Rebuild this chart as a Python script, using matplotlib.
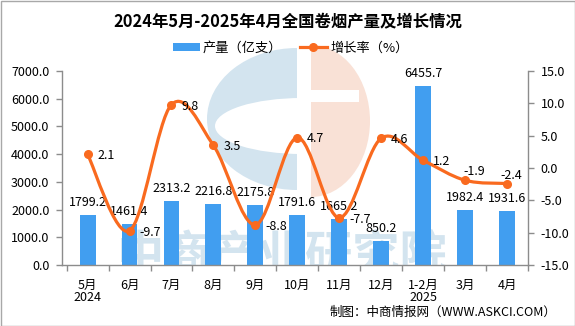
import matplotlib
matplotlib.use('Agg')
import matplotlib.pyplot as plt
from matplotlib.path import Path
from matplotlib.patches import PathPatch, Rectangle, Ellipse
from matplotlib.lines import Line2D
from matplotlib.ticker import FixedLocator, FormatStrFormatter, NullFormatter

# ---------------- data ----------------
categories = ['5月\n2024', '6月', '7月', '8月', '9月', '10月', '11月', '12月',
              '1-2月\n2025', '3月', '4月']
production = [1799.2, 1461.4, 2313.2, 2216.8, 2175.8, 1791.6, 1665.2, 850.2,
              6455.7, 1982.4, 1931.6]
growth = [2.1, -9.7, 9.8, 3.5, -8.8, 4.7, -7.7, 4.6, 1.2, -1.9, -2.4]
left_ticks = [0, 1000, 2000, 3000, 4000, 5000, 6000, 7000]
right_ticks = [-15, -10, -5, 0, 5, 10, 15]

title = '2024年5月-2025年4月全国卷烟产量及增长情况'
bar_name = '产量（亿支）'
line_name = '增长率（%）'
source = '制图：中商情报网（WWW.ASKCI.COM）'

# ---------------- style ----------------
plt.rcParams['font.family'] = ['Noto Sans CJK SC', 'DejaVu Sans']
plt.rcParams['axes.unicode_minus'] = False

BAR_C = '#419ef0'
LINE_C = '#f96a1f'
SPINE_C = '#8c8c8c'
FS = 9

W, H = 575, 326
fig = plt.figure(figsize=(W / 100, H / 100), dpi=100)

# background layer (pixel coordinates) for watermark logo and border
bg = fig.add_axes([0, 0, 1, 1], zorder=0)
bg.set_xlim(0, W)
bg.set_ylim(H, 0)
bg.axis('off')

clip_left = Rectangle((0, 0), 297, H, transform=bg.transData, visible=False)
bg.add_patch(clip_left)
blue_outer = Ellipse((297, 119), 180, 142, facecolor='#d3e4ef', edgecolor='none')
bg.add_patch(blue_outer)
blue_outer.set_clip_path(clip_left)
blue_inner = Ellipse((302, 126), 174, 56, facecolor='white', edgecolor='none')
bg.add_patch(blue_inner)
blue_inner.set_clip_path(clip_left)

clip_right = Rectangle((311, 0), 200, H, transform=bg.transData, visible=False)
bg.add_patch(clip_right)
orange = Ellipse((311, 121), 118, 152, facecolor='#f9e1d6', edgecolor='none')
bg.add_patch(orange)
orange.set_clip_path(clip_right)
bg.add_patch(Rectangle((311, 90), 48, 12, facecolor='white', edgecolor='none'))

bg.add_patch(Rectangle((0.5, 0.5), W - 1, H - 1, fill=False,
                       edgecolor='#a8a8a8', lw=1))

# main axes
L, R, T, B = 62, 528, 71, 265
ax = fig.add_axes([L / W, 1 - B / H, (R - L) / W, (B - T) / H], zorder=1)
ax.patch.set_visible(False)
x = list(range(len(categories)))

ax.text((282.5 - L) / (R - L), (B - 231) / (B - T), '中商产业研究院',
        transform=ax.transAxes, ha='center', va='top', fontsize=34,
        fontweight='bold', color='#d3e4ef', zorder=0.5, clip_on=True)

ax.bar(x, production, width=0.38, color=BAR_C, zorder=2)
ax.set_xlim(-0.61, len(categories) - 0.5)
ax.set_ylim(left_ticks[0], left_ticks[-1])
ax.yaxis.set_major_locator(FixedLocator(left_ticks))
ax.yaxis.set_major_formatter(FormatStrFormatter('%.1f'))

ax.xaxis.set_major_locator(FixedLocator([i - 0.5 for i in range(len(categories) + 1)]))
ax.xaxis.set_major_formatter(NullFormatter())
ax.xaxis.set_minor_locator(FixedLocator(x))
ax.set_xticklabels(categories, minor=True)
for lbl in ax.get_xticklabels(minor=True):
    lbl.set_linespacing(0.92)
ax.tick_params(axis='x', which='major', length=4, width=1, color=SPINE_C, direction='out')
ax.tick_params(axis='x', which='minor', length=0, pad=10, labelsize=FS)
ax.tick_params(axis='y', length=4, width=1, color=SPINE_C, direction='out',
               pad=5, labelsize=FS)
for s in ['top', 'right']:
    ax.spines[s].set_visible(False)
for s in ['left', 'bottom']:
    ax.spines[s].set_color(SPINE_C)
    ax.spines[s].set_linewidth(1)

for xi, v in zip(x, production):
    ax.annotate(f'{v:.1f}', xy=(xi, v), xytext=(0, 9), textcoords='offset points',
                ha='center', va='center', fontsize=FS, zorder=3)

# growth rate axis
ax2 = ax.twinx()
ax2.set_ylim(right_ticks[0], right_ticks[-1])
ax2.yaxis.set_major_locator(FixedLocator(right_ticks))
ax2.yaxis.set_major_formatter(FormatStrFormatter('%.1f'))
ax2.tick_params(axis='y', length=4, width=1, color=SPINE_C, direction='out',
                pad=5, labelsize=FS)
for s in ['top', 'left', 'bottom']:
    ax2.spines[s].set_visible(False)
ax2.spines['right'].set_color(SPINE_C)
ax2.spines['right'].set_linewidth(1)

# smooth (Catmull-Rom style Bezier) line through the data points
pts = list(zip(x, growth))
n = len(pts)
verts = [pts[0]]
codes = [Path.MOVETO]
for i in range(n - 1):
    p0 = pts[i - 1] if i > 0 else pts[i]
    p1 = pts[i]
    p2 = pts[i + 1]
    p3 = pts[i + 2] if i + 2 < n else pts[i + 1]
    c1 = (p1[0] + (p2[0] - p0[0]) / 6, p1[1] + (p2[1] - p0[1]) / 6)
    c2 = (p2[0] - (p3[0] - p1[0]) / 6, p2[1] - (p3[1] - p1[1]) / 6)
    verts += [c1, c2, p2]
    codes += [Path.CURVE4] * 3
ax2.add_patch(PathPatch(Path(verts, codes), facecolor='none', edgecolor=LINE_C,
                        lw=2.3, capstyle='round', joinstyle='round', zorder=3))
ax2.plot(x, growth, linestyle='none', marker='o', markersize=5.5,
         color=LINE_C, zorder=4)

label_offsets = [(7, -1)] * (n - 2) + [(-1.5, 6), (-5, 6)]
for xi, g, off in zip(x, growth, label_offsets):
    ax2.annotate(f'{g:.1f}', xy=(xi, g), xytext=off, textcoords='offset points',
                 ha='left', va='center', fontsize=FS, zorder=5)

# title, legend, source
fig.text(0.5, 1 - 21 / H, title, ha='center', va='center', fontsize=11.8,
         fontweight='bold')
handles = [Rectangle((0, 0), 1, 1, facecolor=BAR_C, edgecolor='none'),
           Line2D([0], [0], color=LINE_C, lw=2.3, marker='o', markersize=5.5)]
fig.legend(handles, [bar_name, line_name], loc='center', ncol=2,
           bbox_to_anchor=(290.5 / W, 1 - 48 / H), frameon=False, fontsize=FS + 0.5,
           handlelength=2.1, handleheight=0.6, handletextpad=0.2,
           columnspacing=1.3, borderaxespad=0, borderpad=0)
fig.text(556 / W, 1 - 312 / H, source, ha='right', va='center', fontsize=9)

fig.savefig('out.png', dpi=100)
